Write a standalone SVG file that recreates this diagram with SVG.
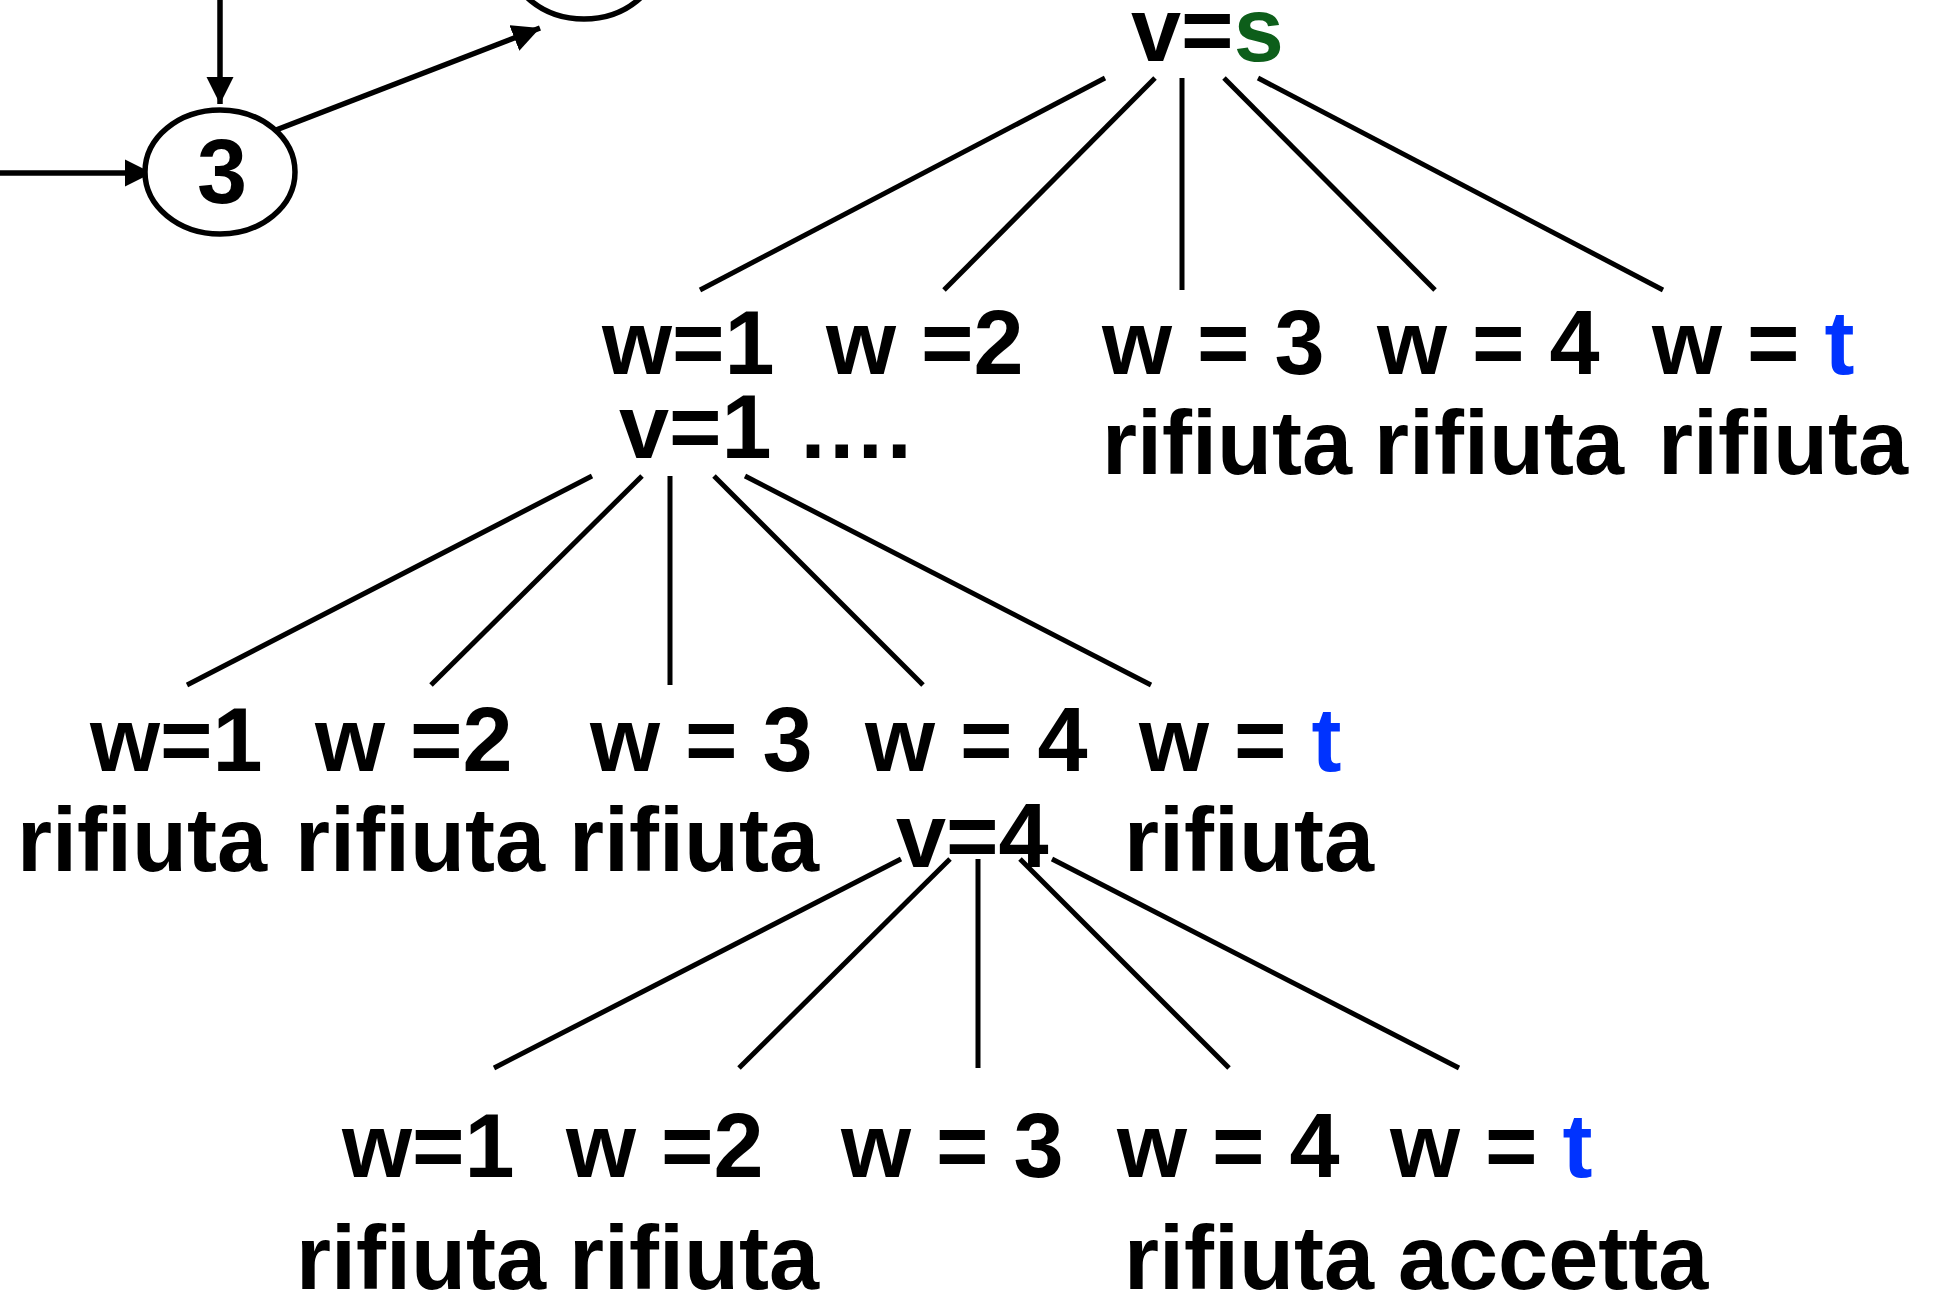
<svg xmlns="http://www.w3.org/2000/svg" width="1943" height="1300" viewBox="0 0 1943 1300">
<defs>
<style>
.t{font-family:"Liberation Sans",Arial,sans-serif;font-weight:bold;font-size:90px;fill:#000}
.g{fill:#0d5e1a}
.b{fill:#0033ff}
.n{fill:#fff;stroke:#000;stroke-width:5.5}
.e{stroke:#000;stroke-width:5;fill:none}
.a{stroke:#000;stroke-width:5.5;fill:none}
</style>
<marker id="ah" markerWidth="5" markerHeight="5" refX="5" refY="2.5" orient="auto" markerUnits="strokeWidth" viewBox="0 0 5 5">
<path d="M0,0 L5,2.5 L0,5 z" fill="#000"/>
</marker>
</defs>
<rect width="1943" height="1300" fill="#fff"/>
<g id="connectors">
<line class="a" x1="220" y1="0" x2="220" y2="104" marker-end="url(#ah)"/>
<line class="a" x1="0" y1="173" x2="152" y2="173" marker-end="url(#ah)"/>
<line class="a" x1="276" y1="130" x2="540" y2="28" marker-end="url(#ah)"/>
<line class="e" x1="1105" y1="78" x2="700" y2="290"/>
<line class="e" x1="1155" y1="78" x2="944" y2="290"/>
<line class="e" x1="1182" y1="78" x2="1182" y2="290"/>
<line class="e" x1="1224" y1="78" x2="1435" y2="290"/>
<line class="e" x1="1258" y1="78" x2="1663" y2="290"/>
<line class="e" x1="592" y1="476" x2="187" y2="685"/>
<line class="e" x1="642" y1="476" x2="431" y2="685"/>
<line class="e" x1="670" y1="476" x2="670" y2="685"/>
<line class="e" x1="714" y1="476" x2="923" y2="685"/>
<line class="e" x1="745" y1="476" x2="1151" y2="685"/>
<line class="e" x1="901" y1="859" x2="494" y2="1068"/>
<line class="e" x1="950" y1="859" x2="739" y2="1068"/>
<line class="e" x1="978" y1="859" x2="978" y2="1068"/>
<line class="e" x1="1020" y1="859" x2="1229" y2="1068"/>
<line class="e" x1="1052" y1="859" x2="1459" y2="1068"/>
</g>
<g id="node-top">
<ellipse class="n" cx="584" cy="-43" rx="75" ry="62"/>
</g>
<g id="node-3">
<ellipse class="n" cx="220" cy="172" rx="75" ry="62"/>
<text class="t" x="222" y="203" text-anchor="middle">3</text>
</g>
<g id="root">
<text class="t" x="1131" y="61">v=<tspan class="g">s</tspan></text>
</g>
<g id="l1-w1"><text class="t" x="602" y="374">w=1</text><text class="t" x="619" y="458">v=1 ….</text></g>
<g id="l1-w2"><text class="t" x="826" y="374">w =2</text></g>
<g id="l1-w3"><text class="t" x="1102" y="374">w = 3</text><text class="t" x="1102" y="474">rifiuta</text></g>
<g id="l1-w4"><text class="t" x="1377" y="374">w = 4</text><text class="t" x="1374" y="474">rifiuta</text></g>
<g id="l1-wt"><text class="t" x="1652" y="374">w = <tspan class="b">t</tspan></text><text class="t" x="1658" y="474">rifiuta</text></g>
<g id="l2-w1"><text class="t" x="90" y="771">w=1</text><text class="t" x="17" y="871">rifiuta</text></g>
<g id="l2-w2"><text class="t" x="315" y="771">w =2</text><text class="t" x="295" y="871">rifiuta</text></g>
<g id="l2-w3"><text class="t" x="590" y="771">w = 3</text><text class="t" x="569" y="871">rifiuta</text></g>
<g id="l2-w4"><text class="t" x="865" y="771">w = 4</text><text class="t" x="896" y="867">v=4</text></g>
<g id="l2-wt"><text class="t" x="1139" y="771">w = <tspan class="b">t</tspan></text><text class="t" x="1124" y="871">rifiuta</text></g>
<g id="l3-w1"><text class="t" x="342" y="1177">w=1</text><text class="t" x="296" y="1289">rifiuta</text></g>
<g id="l3-w2"><text class="t" x="566" y="1177">w =2</text><text class="t" x="569" y="1289">rifiuta</text></g>
<g id="l3-w3"><text class="t" x="841" y="1177">w = 3</text></g>
<g id="l3-w4"><text class="t" x="1117" y="1177">w = 4</text><text class="t" x="1124" y="1289">rifiuta</text></g>
<g id="l3-wt"><text class="t" x="1390" y="1177">w = <tspan class="b">t</tspan></text><text class="t" x="1398" y="1289">accetta</text></g>
</svg>
